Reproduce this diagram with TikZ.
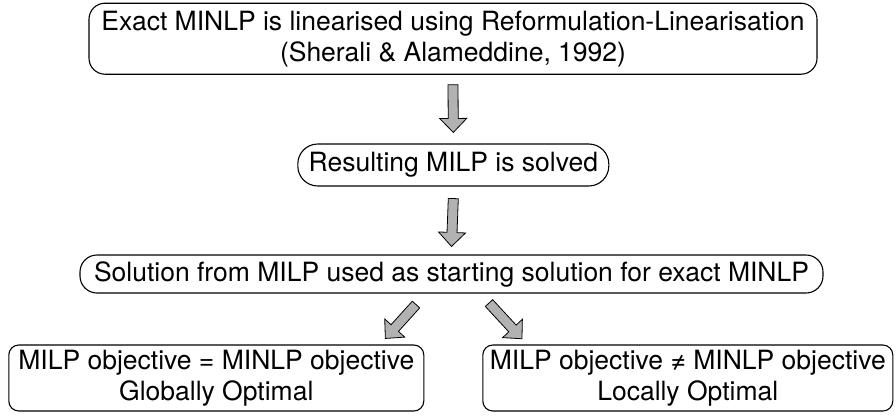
\documentclass[tikz,border=0pt]{standalone}
\usepackage{fontspec}
\setmainfont{TeX Gyre Heros}
\usetikzlibrary{calc}
\colorlet{arrowfill}{gray!60}
\tikzset{stage/.style={
  draw,
  line width=1.1pt,
  rounded corners=16pt,
  align=center,
  inner sep=0pt,
  font=\fontsize{26.5}{31}\selectfont
}}
\tikzset{fatarrow/.style={
  draw,
  fill=arrowfill,
  line width=0.8pt,
  to path={let \p1=(\tikztostart), \p2=(\tikztotarget),
    \p3=($(\p2)!14pt!(\p1)$) in
    ($(\p1)!5pt!90:(\p2)$) -- ($(\p3)!5pt!-90:(\p1)$)
    -- ($(\p3)!13.5pt!-90:(\p1)$) -- (\p2)
    -- ($(\p3)!13.5pt!90:(\p1)$) -- ($(\p3)!5pt!90:(\p1)$)
    -- ($(\p1)!5pt!-90:(\p2)$) -- cycle}
}}

\begin{document}
\begin{tikzpicture}[x=1pt,y=-1pt]
    \useasboundingbox (0,0) rectangle (896,415);
    % Boxes
    \node[stage,minimum width=728pt,minimum height=71pt] (exact) at (453,38.7)
      {Exact MINLP is linearised using Reformulation-Linearisation\\
       (Sherali \& Alameddine, 1992)};
    \node[stage,rounded corners=20pt,minimum width=311pt,minimum height=42pt]
      (solved) at (453.3,165) {Resulting MILP is solved};
    \node[stage,rounded corners=17pt,minimum width=743pt,minimum height=38pt]
      (start) at (451.5,274)
      {Solution from MILP used as starting solution for exact MINLP};
    \node[stage,rounded corners=10pt,minimum width=415pt,minimum height=66pt]
      (glob) at (216.3,378)
      {MILP objective = MINLP objective\\ Globally Optimal};
    \node[stage,rounded corners=10pt,minimum width=410pt,minimum height=66pt]
      (loc) at (687.8,378)
      {MILP objective ≠ MINLP objective\\ Locally Optimal};
    % Arrows
    \draw[fatarrow] ([yshift=-10pt]exact.south) to ([yshift=11pt]solved.north);
    \draw[fatarrow] ([yshift=-12pt]solved.south) to ([yshift=8pt]start.north);
    \draw[fatarrow] ([xshift=-35.5pt,yshift=-11pt]start.south)
      to ([xshift=-39pt,yshift=6pt]glob.north east);
    \draw[fatarrow] ([xshift=37.5pt,yshift=-9.5pt]start.south)
      to ([xshift=39.7pt,yshift=5.7pt]loc.north west);
\end{tikzpicture}
\end{document}
